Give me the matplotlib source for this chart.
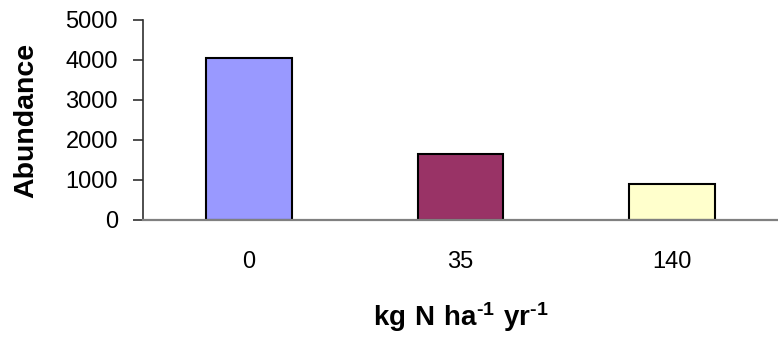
import matplotlib.pyplot as plt

plt.rcParams['font.family'] = ['Liberation Sans', 'DejaVu Sans']
plt.rcParams['mathtext.fontset'] = 'custom'
plt.rcParams['mathtext.rm'] = 'Liberation Sans:bold'
plt.rcParams['mathtext.bf'] = 'Liberation Sans:bold'

# data
categorias = ["0", "35", "140"]
abundancia = [4060, 1640, 890]
colores = ["#9999FF", "#993366", "#FFFFCC"]
yticks = [0, 1000, 2000, 3000, 4000, 5000]

fig = plt.figure(figsize=(7.78, 3.40), dpi=100)
ax = fig.add_axes([143 / 778, 120 / 340, 1 - 143 / 778, 200 / 340])

pos = [i + 0.5 for i in range(len(categorias))]
ax.bar(pos, abundancia, width=0.405, color=colores, edgecolor="black", linewidth=1.5)

ax.set_xlim(0, 3)
ax.set_ylim(0, 5000)
ax.set_yticks(yticks)
ax.set_xticks(pos)
ax.set_xticklabels(categorias)

ax.spines["top"].set_visible(False)
ax.spines["right"].set_visible(False)
ax.spines["left"].set_color("#303030")
ax.spines["left"].set_linewidth(1.2)
ax.spines["bottom"].set_color("#808080")
ax.spines["bottom"].set_linewidth(1.6)
ax.tick_params(axis="y", length=7, width=1.2, color="#303030", pad=11, labelsize=17)
ax.tick_params(axis="x", length=0, pad=22, labelsize=17)

ax.set_ylabel("Abundance", fontsize=20.5, fontweight="bold")
ax.yaxis.set_label_coords(-0.164, 0.5)
ax.set_xlabel(r"$\mathbf{kg\ N\ ha^{\text{-}1}\ yr^{\text{-}1}}$", fontsize=20)
ax.xaxis.set_label_coords(0.5, -0.40)

fig.savefig("out.png", dpi=100)
